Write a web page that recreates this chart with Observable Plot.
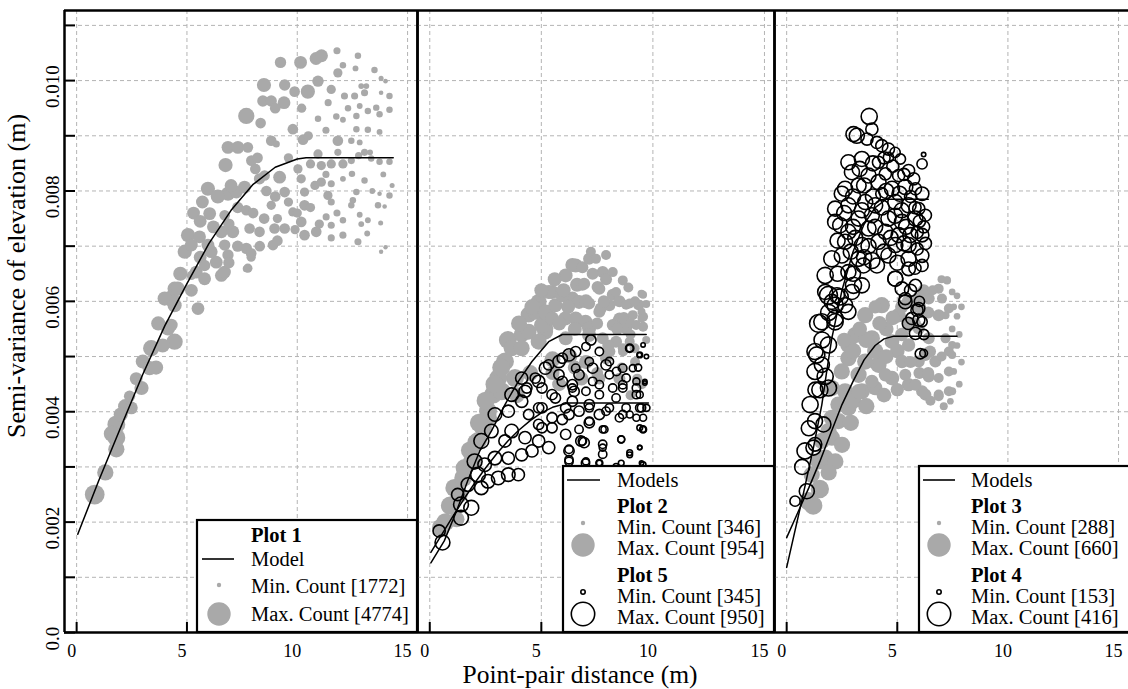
<!DOCTYPE html>
<html><head><meta charset="utf-8">
<script src="https://cdn.jsdelivr.net/npm/d3@7"></script>
<script src="https://cdn.jsdelivr.net/npm/@observablehq/plot@0.6"></script>
<style>
html,body{margin:0;padding:0;background:#fff;overflow:hidden}
#fig{position:relative;width:1128px;height:689px;font-family:"Liberation Serif","Times New Roman",serif;color:#000}
#fig svg text{font-family:"Liberation Serif","Times New Roman",serif !important}
.panel{position:absolute;top:0}
#ytitle{position:absolute;left:17px;top:276px;transform:translate(-50%,-50%) rotate(-90deg);font-size:26px;white-space:nowrap}
#xtitle{position:absolute;left:580px;top:675px;transform:translate(-50%,-50%);font-size:25.5px;line-height:20px;white-space:nowrap}
</style></head><body>
<div id="fig">
  <div id="p1" class="panel" style="left:0px"></div>
  <div id="p2" class="panel" style="left:417px"></div>
  <div id="p3" class="panel" style="left:774px"></div>
  <div id="ytitle">Semi-variance of elevation (m)</div>
  <div id="xtitle">Point-pair distance (m)</div>
</div>
<script>
// ---------- tick values / labels ----------
const xTicks = [0, 5, 10, 15];
const xTickLabels = ["0", "5", "10", "15"];
const yGridTicks = [0, 0.001, 0.002, 0.003, 0.004, 0.005, 0.006, 0.007, 0.008, 0.009, 0.010, 0.011];
const yLabelTicks = [0, 0.002, 0.004, 0.006, 0.008, 0.010];
const yTickLabels = ["0.0", "0.002", "0.004", "0.006", "0.008", "0.010"];

// ---------- count ranges (legend) ----------
const plot1Range = [1772, 4774];
const plot2Range = [346, 954];
const plot5Range = [345, 950];
const plot3Range = [288, 660];
const plot4Range = [153, 416];

// ---------- empirical semivariograms: [distance, semivariance, count] ----------
const plot1 = [
[9.24,0.01033,2870],[10.15,0.01033,3100],[10.85,0.01040,3100],[11.1,0.01045,3100],[11.8,0.01054,2200],
[12.75,0.01045,2100],[12.07,0.01028,2100],[12.64,0.01022,2000],[13.5,0.01019,2100],[13.8,0.01004,1870],
[14.0,0.00999,1800],[8.49,0.00992,3320],[9.43,0.00992,2870],[9.88,0.00980,2760],[10.48,0.00980,3320],
[10.94,0.00999,2870],[11.54,0.00984,2540],[11.84,0.01014,2540],[12.14,0.00972,2200],[12.6,0.00972,2200],
[13.05,0.00978,2200],[13.13,0.00990,2000],[13.8,0.00978,1800],[14.18,0.00972,2100],[8.44,0.00963,2870],
[8.82,0.00963,2870],[9.4,0.00960,3100],[7.69,0.00936,3650],[8.34,0.00923,2760],[9.8,0.00912,2760],
[10.94,0.00931,2100],[11.77,0.00935,2100],[12.07,0.00929,2000],[12.68,0.00936,2100],[12.83,0.00954,2000],
[13.2,0.00945,2100],[13.58,0.00951,2100],[13.73,0.00939,2100],[14.18,0.00947,2100],[12.68,0.00912,2100],
[13.2,0.00911,2100],[13.73,0.00907,2000],[8.82,0.00891,2760],[9.05,0.00885,2200],[10.26,0.00893,2760],
[11.84,0.00891,2760],[12.45,0.00891,2100],[12.83,0.00888,2000],[6.86,0.00879,3100],[7.31,0.00879,3100],
[7.76,0.00879,2760],[6.75,0.00847,3320],[7.92,0.00855,2760],[10.94,0.00867,2540],[11.84,0.00870,2200],
[12.78,0.00864,2200],[13.05,0.00870,2200],[10.03,0.00840,2540],[10.6,0.00849,2540],[11.09,0.00846,2540],
[11.54,0.00849,2540],[12.07,0.00849,2540],[12.45,0.00855,2200],[13.35,0.00859,2100],[13.73,0.00853,2100],
[14.18,0.00853,2100],[8.52,0.00828,2760],[9.2,0.00825,3100],[10.18,0.00822,2540],[11.09,0.00816,2540],
[11.54,0.00813,2200],[12.07,0.00822,2000],[12.48,0.00831,2100],[13.05,0.00819,2100],[5.95,0.00804,3320],
[6.86,0.00795,3320],[7.24,0.00798,3100],[7.61,0.00807,3100],[8.29,0.00822,2870],[9.43,0.00798,2760],
[10.33,0.00798,2540],[11.39,0.00792,2540],[11.54,0.00780,2200],[12.52,0.00783,2100],[12.68,0.00798,2100],
[13.73,0.00795,1800],[14.18,0.00792,2100],[6.03,0.00759,3100],[6.71,0.00756,2760],[7.69,0.00765,2760],
[8.82,0.00774,2540],[9.8,0.00762,2540],[10.33,0.00774,2760],[12.45,0.00774,2100],[13.66,0.00774,2100],
[13.96,0.00772,1800],[5.05,0.00720,3320],[5.57,0.00717,3100],[6.56,0.00726,3100],[7.08,0.00726,3100],
[7.84,0.00732,2760],[8.29,0.00726,2760],[8.97,0.00732,2760],[9.43,0.00732,2760],[10.18,0.00744,2760],
[10.33,0.00720,2760],[10.86,0.00726,2760],[11.31,0.00753,2200],[11.54,0.00738,2200],[12.07,0.00747,2100],
[11.54,0.00715,2200],[12.07,0.00720,2200],[12.75,0.00708,2200],[12.83,0.00757,2000],[13.2,0.00747,2000],
[13.17,0.00723,2000],[13.78,0.00742,1870],[14.0,0.00698,1772],[13.8,0.00690,1772],[5.2,0.00702,3100],
[5.95,0.00702,3100],[6.71,0.00702,2870],[7.69,0.00696,2870],[8.9,0.00702,2760],[5.42,0.00653,3100],
[6.33,0.00671,3100],[6.86,0.00684,2870],[6.56,0.00647,3100],[7.76,0.00660,2540],[7.91,0.00687,2760],
[4.44,0.00623,3320],[5.2,0.00620,3100],[5.8,0.00641,3100],[3.99,0.00605,3320],[4.44,0.00593,3320],
[5.5,0.00587,3100],[4.29,0.00557,3100],[4.29,0.00605,3650],[4.59,0.00623,3320],[5.2,0.00647,2540],
[4.14,0.00551,3320],[4.44,0.00527,3650],[3.38,0.00515,3650],[3.0,0.00491,3320],[3.31,0.00479,3320],
[2.94,0.00443,3320],[2.4,0.00428,2870],[2.48,0.00407,3100],[1.8,0.00377,3900],[1.8,0.00353,3900],
[1.8,0.00332,3650],[0.82,0.00250,4200],[5.8,0.00665,2870],[6.7,0.00653,3100],[7.69,0.00659,2200],
[7.91,0.00680,2540],
[5.3,0.00760,3100],[5.6,0.00745,3100],[6.2,0.00735,3100],[6.9,0.00740,2870],[7.3,0.00770,2870],
[7.0,0.00810,3100],[6.4,0.00790,3320],[5.7,0.00780,3100],[4.9,0.00690,3320],[5.6,0.00680,3100],
[6.1,0.00690,3100],[6.9,0.00670,2870],[7.3,0.00700,2870],[4.7,0.00650,3320],[3.7,0.00560,3320],
[3.9,0.00520,3320],[3.6,0.00480,3320],[2.7,0.00460,3100],[2.2,0.00410,3320],[2.0,0.00395,3320],
[1.6,0.00360,3650],[1.3,0.00290,3650],[8.0,0.00760,2760],[8.5,0.00750,2760],[9.1,0.00750,2540],
[9.6,0.00780,2540],[10.0,0.00760,2540],[10.6,0.00770,2540],[8.6,0.00800,2760],[9.0,0.00790,2760],
[10.8,0.00810,2540],[11.3,0.00830,2200],[9.6,0.00860,2540],[8.2,0.00860,2760],[10.5,0.00900,2540],
[11.3,0.00910,2200],[9.0,0.00950,2760],[10.2,0.00950,2540],[11.4,0.00960,2200],[12.3,0.00950,2100],
[12.9,0.00990,2000],[13.3,0.00870,2000],[13.9,0.00830,2000],[14.3,0.00810,1870],[13.4,0.00800,2000],
[12.9,0.00740,2000],[11.8,0.00760,2200],[11.0,0.00740,2540],[9.9,0.00730,2540],[9.1,0.00710,2760],
[8.3,0.00700,2760],[8.1,0.00840,2760]
];

const plot2 = [
[7.22,0.00690,525],[7.90,0.00684,525],[7.45,0.00677,525],[6.39,0.00666,653],[6.84,0.00662,589],
[7.75,0.00653,589],[8.2,0.00653,525],[6.09,0.00647,653],[8.65,0.00638,525],[6.84,0.00630,589],
[7.52,0.00626,589],[6.92,0.00632,589],[9.56,0.00612,461],[5.48,0.00617,653],[8.2,0.00612,589],
[7.6,0.00623,589],[8.35,0.00617,525],[9.49,0.00614,461],[5.33,0.00617,653],[5.63,0.00593,653],
[6.39,0.00605,653],[7.14,0.00596,589],[8.05,0.00593,589],[8.96,0.00596,525],[9.34,0.00593,525],
[8.8,0.00594,525],[9.4,0.00594,525],[9.56,0.00572,525],[7.66,0.00587,589],[6.69,0.00599,653],
[4.88,0.00599,717],[4.43,0.00576,717],[6.07,0.00569,653],[6.98,0.00563,653],[8.43,0.00563,589],
[9.0,0.00560,525],[9.56,0.00554,525],[4.12,0.00540,717],[5.17,0.00545,717],[3.67,0.00515,717],
[4.73,0.00581,717],[5.48,0.00569,653],[6.54,0.00569,653],[7.6,0.00581,589],[8.5,0.00569,589],
[9.1,0.00575,525],[9.49,0.00581,461],[4.43,0.00545,717],[5.18,0.00551,717],[7.14,0.00551,653],
[8.2,0.00557,589],[8.8,0.00551,589],[9.25,0.00557,525],[9.49,0.00569,461],[7.75,0.00533,589],
[8.35,0.00527,589],[8.96,0.00527,525],[9.18,0.00515,525],[8.05,0.00509,589],[8.65,0.00515,525],
[5.94,0.00611,653],[6.54,0.00665,653],[7.14,0.00677,589],[5.03,0.00557,717],[4.88,0.00527,717],
[6.09,0.00533,653],[7.14,0.00539,653],[7.9,0.00497,589],[8.66,0.00509,525],[3.37,0.00491,780],
[3.82,0.00461,780],[3.07,0.00461,780],[2.84,0.00431,780],[2.61,0.00401,780],[2.39,0.00371,780],
[2.08,0.00344,780],[3.22,0.00437,780],[2.16,0.00347,780],[1.56,0.00298,780],[1.1,0.00262,780],
[0.5,0.00190,780],[2.61,0.00389,780],[4.12,0.00515,717],[5.5,0.00495,717],[6.3,0.00500,653],
[7.0,0.00490,653],[4.5,0.00470,717],[5.8,0.00450,653],[6.8,0.00460,653],[7.6,0.00460,589],
[8.6,0.00480,525],[9.3,0.00460,525],[0.9,0.00230,780],[1.3,0.00250,780],[1.9,0.00310,780],
[1.2,0.00205,717],[3.9,0.00430,717],
[4.0,0.00560,717],[4.6,0.00590,717],[5.0,0.00620,653],[5.6,0.00640,653],[6.0,0.00620,653],
[6.6,0.00630,653],[7.3,0.00650,589],[7.9,0.00640,589],[8.5,0.00600,589],[8.9,0.00625,525],
[9.2,0.00600,525],[9.7,0.00595,461],[9.7,0.00530,461],[9.0,0.00540,525],[8.4,0.00550,589],
[7.5,0.00560,589],[6.5,0.00550,653],[5.8,0.00560,653],[5.2,0.00580,717],[6.2,0.00590,653],
[7.0,0.00600,653],[7.8,0.00600,589],[8.7,0.00570,589],[3.5,0.00530,780],[3.2,0.00480,780],
[2.9,0.00450,780],[2.5,0.00420,780],[2.2,0.00380,780],[1.8,0.00330,780],[1.5,0.00280,780],
[0.7,0.00200,780],[5.5,0.00470,653],[6.5,0.00480,653],[7.5,0.00470,589],[8.5,0.00460,589],
[9.2,0.00490,525],[8.0,0.00520,589],[9.5,0.00450,525],[9.0,0.00430,525]
];

const plot5 = [
[0.57,0.00163,678],[0.42,0.00184,594],[1.4,0.00208,678],[1.4,0.00232,678],[1.86,0.00226,678],
[1.25,0.00250,594],[1.71,0.00268,636],[2.31,0.00262,636],[2.16,0.00286,678],[2.61,0.00274,636],
[3.07,0.00280,636],[3.52,0.00286,636],[3.97,0.00286,594],[2.01,0.00310,678],[2.46,0.00304,636],
[2.92,0.00316,636],[3.52,0.00316,594],[4.12,0.00322,594],[4.58,0.00329,594],[2.31,0.00347,678],
[2.76,0.00365,636],[3.37,0.00347,594],[3.67,0.00365,636],[4.27,0.00353,594],[4.88,0.00347,594],
[5.33,0.00335,594],[2.92,0.00395,636],[3.52,0.00401,594],[4.12,0.00419,594],[3.67,0.00431,636],
[4.27,0.00437,594],[4.88,0.00455,594],[4.12,0.00461,594],[5.18,0.00479,594],[5.79,0.00491,594],
[6.24,0.00503,594],[5.48,0.00431,532],[4.88,0.00407,532],[5.48,0.00389,532],[6.09,0.00407,532],
[6.39,0.00419,532],[6.69,0.00401,532],[7.15,0.00413,532],[7.6,0.00395,532],[8.05,0.00407,470],
[8.5,0.00389,470],[8.8,0.00407,470],[9.41,0.00407,470],[9.56,0.00389,428],[9.56,0.00368,387],
[7.15,0.00383,470],[7.75,0.00368,428],[6.69,0.00368,470],[6.09,0.00359,532],[6.24,0.00332,470],
[6.84,0.00347,470],[7.75,0.00335,428],[8.58,0.00350,428],[8.96,0.00322,387],[9.41,0.00335,345],
[6.24,0.00313,470],[7.0,0.00310,428],[7.6,0.00307,387],[8.35,0.00301,387],[9.56,0.00304,387],
[5.48,0.00371,532],[4.88,0.00377,532],[5.94,0.00455,532],[6.69,0.00467,532],[7.3,0.00479,532],
[7.9,0.00485,532],[8.37,0.00473,470],[8.8,0.00461,470],[9.26,0.00443,470],[9.41,0.00431,428],
[9.1,0.00479,428],[9.41,0.00503,387],[9.56,0.00521,345],[8.96,0.00515,428],[7.6,0.00509,470],
[7.0,0.00518,470],[8.2,0.00443,470],[7.6,0.00449,470],[7.0,0.00437,470],[6.39,0.00443,470],
[9.64,0.00452,345],[7.22,0.00530,532],[8.96,0.00515,470],[9.4,0.00503,345],[9.71,0.00500,345],
[9.34,0.00480,428],[6.54,0.00509,532],[5.94,0.00497,532],[5.33,0.00485,532],[4.73,0.00461,532],
[4.35,0.00443,532],[5.03,0.00443,532],[5.79,0.00467,532],[6.54,0.00479,470],[7.15,0.00491,470],
[8.05,0.00491,470],[8.65,0.00479,470],[6.39,0.00449,532],[7.3,0.00455,470],[8.05,0.00467,470],
[8.65,0.00449,470],[9.26,0.00455,428],[9.64,0.00455,345],[5.63,0.00425,532],[6.47,0.00437,532],
[7.6,0.00431,470],[8.35,0.00425,470],[8.65,0.00443,470],[9.26,0.00431,470],[9.49,0.00407,470],
[4.43,0.00395,532],[5.03,0.00407,532],[6.24,0.00395,532],[7.15,0.00407,470],[7.9,0.00401,470],
[8.65,0.00395,470],[9.26,0.00389,428],[9.71,0.00407,428],[9.41,0.00371,387],[9.56,0.00368,428],
[8.96,0.00395,428],[7.15,0.00380,532],[7.83,0.00368,428],[5.94,0.00386,532],[5.03,0.00371,532],
[6.77,0.00347,532],[7.75,0.00341,470],[8.58,0.00350,428],[6.92,0.00344,532],[6.24,0.00329,532],
[7.75,0.00323,470],[8.96,0.00326,387],[9.41,0.00335,345],[6.24,0.00310,470],[6.98,0.00307,470],
[7.6,0.00307,428],[8.58,0.00307,387],[9.49,0.00307,345]
];

const plot3 = [
[7.25,0.00638,359],[6.87,0.00623,398],[6.42,0.00605,437],[7.02,0.00605,398],[7.33,0.00587,398],
[4.3,0.00593,520],[3.55,0.00575,520],[5.06,0.00575,489],[5.51,0.00557,463],[6.87,0.00575,437],
[3.1,0.00539,520],[3.85,0.00533,520],[4.76,0.00527,489],[5.51,0.00521,463],[6.42,0.00533,437],
[7.18,0.00533,398],[7.33,0.00509,398],[6.72,0.00491,437],[7.33,0.00473,398],[6.87,0.00461,398],
[6.42,0.00464,437],[7.33,0.00437,398],[6.87,0.00428,398],[6.12,0.00437,437],[5.51,0.00449,463],
[4.76,0.00461,489],[4.15,0.00485,520],[3.55,0.00491,520],[2.79,0.00497,520],[2.49,0.00473,520],
[3.25,0.00467,520],[4.0,0.00443,489],[3.4,0.00437,520],[2.64,0.00437,520],[2.34,0.00413,520],
[2.04,0.00389,520],[1.89,0.00365,520],[1.59,0.00347,520],[1.44,0.00310,520],[1.13,0.00286,520],
[0.98,0.00238,560],[2.04,0.00443,520],[2.79,0.00521,520],[5.97,0.00551,437],[5.21,0.00491,463],
[6.27,0.00503,437],[7.25,0.00639,333],[7.48,0.00617,333],[7.55,0.00590,333],[7.18,0.00575,359],
[7.7,0.00573,333],[7.48,0.00550,333],[7.48,0.00521,359],[7.48,0.00503,359],[7.55,0.00473,333],
[7.48,0.00437,359],[7.4,0.00419,333],[6.87,0.00431,398],[6.27,0.00431,437],[5.82,0.00449,437],
[5.36,0.00467,437],[4.46,0.00467,463],[3.85,0.00455,463],[3.25,0.00437,489],[2.79,0.00407,520],
[2.34,0.00383,520],[2.04,0.00353,520],[1.74,0.00317,520],[6.48,0.00509,437],[5.97,0.00491,437],
[4.5,0.00550,489],[5.2,0.00590,463],[6.0,0.00590,463],[6.2,0.00620,437],[5.7,0.00600,463],
[4.0,0.00510,520],[5.0,0.00510,489],[6.0,0.00470,437],[3.0,0.00420,520],[7.8,0.00540,333],
[7.9,0.00490,333],[7.7,0.00610,333],[7.0,0.00640,359],
[3.0,0.00510,520],[3.6,0.00530,520],[4.2,0.00560,489],[4.8,0.00570,489],[5.5,0.00600,463],
[6.0,0.00610,437],[6.6,0.00620,398],[6.4,0.00580,437],[5.8,0.00560,437],[5.2,0.00540,463],
[4.5,0.00500,489],[5.6,0.00490,437],[6.4,0.00470,437],[7.0,0.00500,398],[7.7,0.00520,333],
[7.9,0.00590,333],[7.8,0.00450,333],[7.1,0.00410,359],[6.5,0.00420,398],[5.0,0.00440,463],
[4.4,0.00430,489],[3.6,0.00410,520],[2.9,0.00380,520],[2.5,0.00340,520],[2.2,0.00310,520],
[1.9,0.00290,520],[1.5,0.00260,560],[1.2,0.00230,560],[2.6,0.00530,489],[3.3,0.00550,489],
[4.0,0.00590,463]
];

const plot4 = [
[3.73,0.00935,315],[3.85,0.00912,260],[3.02,0.00903,300],[3.17,0.00900,300],[3.63,0.00894,260],
[4.08,0.00888,260],[4.3,0.00882,260],[4.6,0.00876,260],[4.9,0.00870,234],[4.6,0.00861,234],
[6.19,0.00866,153],[6.12,0.00849,234],[2.79,0.00852,300],[3.4,0.00858,300],[4.15,0.00852,260],
[5.51,0.00837,260],[5.14,0.00858,234],[2.95,0.00834,300],[3.7,0.00828,300],[4.46,0.00831,260],
[5.06,0.00828,260],[5.74,0.00822,260],[2.64,0.00804,300],[3.25,0.00810,300],[4.15,0.00816,300],
[4.76,0.00804,300],[5.36,0.00807,300],[6.12,0.00795,280],[5.82,0.00804,260],[2.49,0.00795,300],
[4.3,0.00795,260],[2.19,0.00768,300],[2.79,0.00774,300],[3.55,0.00780,300],[4.0,0.00774,300],
[4.91,0.00780,300],[5.51,0.00774,300],[5.97,0.00768,260],[6.27,0.00756,260],[2.19,0.00744,300],
[2.42,0.00738,300],[3.25,0.00750,300],[3.85,0.00756,300],[4.6,0.00750,300],[5.21,0.00744,300],
[5.82,0.00750,300],[6.19,0.00735,260],[2.79,0.00726,300],[3.7,0.00732,300],[4.46,0.00726,300],
[5.06,0.00720,300],[5.59,0.00720,300],[6.12,0.00720,280],[2.64,0.00708,300],[3.4,0.00702,300],
[4.15,0.00708,300],[4.91,0.00702,300],[5.51,0.00702,300],[6.27,0.00705,260],[2.04,0.00677,315],
[2.49,0.00683,300],[3.25,0.00677,300],[3.85,0.00674,315],[4.6,0.00683,300],[5.51,0.00677,300],
[6.12,0.00683,280],[1.74,0.00647,315],[2.79,0.00653,300],[3.47,0.00665,300],[4.08,0.00665,300],
[4.91,0.00641,300],[5.51,0.00659,280],[6.12,0.00665,260],[5.21,0.00623,280],[5.82,0.00629,260],
[1.74,0.00617,300],[2.27,0.00611,300],[2.95,0.00617,300],[3.4,0.00629,300],[2.64,0.00593,300],
[2.04,0.00599,300],[5.36,0.00599,280],[5.97,0.00587,260],[1.59,0.00563,315],[2.19,0.00569,315],
[2.79,0.00581,300],[5.66,0.00569,260],[6.12,0.00563,234],[1.89,0.00521,315],[1.28,0.00509,315],
[5.82,0.00542,260],[6.04,0.00505,234],[6.19,0.00506,200],[1.59,0.00485,300],[1.89,0.00611,340],
[2.42,0.00608,315],[2.19,0.00593,315],[3.02,0.00629,315],[1.44,0.00560,340],[2.19,0.00563,315],
[1.36,0.00503,315],[1.28,0.00473,315],[1.74,0.00464,315],[1.89,0.00443,315],[1.06,0.00413,315],
[1.28,0.00383,300],[1.66,0.00377,300],[0.83,0.00329,315],[1.21,0.00335,300],[1.28,0.00341,280],
[0.91,0.00256,300],[0.38,0.00238,234],[5.97,0.00566,260],[5.89,0.00584,260],[5.36,0.00605,260],
[4.91,0.00641,300],
[3.3,0.00840,300],[3.9,0.00850,300],[4.4,0.00860,260],[4.8,0.00845,260],[5.3,0.00830,260],
[3.5,0.00810,300],[4.5,0.00800,300],[5.1,0.00795,300],[5.6,0.00790,260],[3.0,0.00790,300],
[3.9,0.00790,300],[4.3,0.00770,300],[5.2,0.00765,300],[5.8,0.00770,260],[2.6,0.00760,300],
[3.4,0.00765,300],[4.9,0.00755,300],[6.0,0.00745,260],[3.0,0.00735,300],[4.0,0.00735,300],
[5.4,0.00735,300],[5.9,0.00725,260],[3.1,0.00715,300],[4.7,0.00715,300],[5.3,0.00705,300],
[2.3,0.00710,300],[3.7,0.00700,300],[4.4,0.00690,300],[5.9,0.00695,260],[2.9,0.00690,300],
[3.5,0.00680,300],[5.0,0.00670,300],[5.8,0.00660,260],[2.3,0.00650,300],[3.0,0.00650,300],
[1.9,0.00580,315],[1.6,0.00530,315],[1.5,0.00440,315],[1.3,0.00440,300],[1.0,0.00370,300],
[0.7,0.00300,300],[5.6,0.00620,260],[5.5,0.00560,260],[6.0,0.00600,234],[6.2,0.00540,234]
];

// ---------- fitted models: [distance, semivariance] ----------
const model1 = [[0.05,0.00178],[1,0.00275],[2,0.00372],[3,0.00468],[4,0.00556],[5,0.00632],[6,0.00705],
  [7,0.00765],[8,0.00812],[9,0.00843],[10,0.00858],[10.4,0.00860],[14.35,0.00860]];
const model2 = [[0.05,0.00126],[0.65,0.00166],[1.2,0.00220],[1.7,0.00275],[2.24,0.00329],[2.76,0.00365],
  [3.37,0.00413],[3.97,0.00455],[4.58,0.00491],[5.33,0.00527],[5.94,0.00540],[9.7,0.00540]];
const model5 = [[0.05,0.00145],[0.5,0.00175],[1,0.00208],[1.5,0.00240],[2,0.00270],[2.5,0.00298],
  [3,0.00324],[3.5,0.00347],[4,0.00367],[4.5,0.00384],[5,0.00398],[5.5,0.00408],[6.2,0.00416],[9.8,0.00416]];
const model3 = [[0,0.00172],[0.5,0.00217],[1,0.00262],[1.5,0.00310],[2,0.00362],[2.5,0.00413],[3,0.00455],
  [3.5,0.00494],[4,0.00520],[4.4,0.00532],[4.85,0.00537],[7.7,0.00537]];
const model4 = [[0,0.00118],[0.68,0.00238],[1.21,0.00335],[1.59,0.00413],[1.81,0.00473],[2.04,0.00533],
  [2.5,0.00620],[3,0.00690],[3.5,0.00740],[4,0.00770],[4.5,0.00785],[6.4,0.00785]];

// ---------- styling ----------
const X_DOMAIN = [-0.55, 15.45];
const Y_DOMAIN = [0, 0.01127];
const GREY = "#a9a9a9";
const GRID = "#b4b4b4";
const FONT = "Liberation Serif, Times New Roman, serif";

function makePanel({width, marginLeft, showY, borders, series, models}) {
  const marks = [
    Plot.gridX(xTicks, {stroke: GRID, strokeOpacity: 1, strokeDasharray: "4,3", strokeWidth: 1}),
    Plot.gridY(yGridTicks, {stroke: GRID, strokeOpacity: 1, strokeDasharray: "4,3", strokeWidth: 1}),
    ...series.map(s => Plot.dot(s.data, {
      x: d => d[0], y: d => d[1],
      r: d => (d[2] - s.range[0]) / (s.range[1] - s.range[0]),
      ...(s.filled ? {fill: GREY} : {fill: "none", stroke: "black", strokeWidth: 1.6})
    })),
    ...models.map(m => Plot.line(m, {x: d => d[0], y: d => d[1], stroke: "black", strokeWidth: 1.5})),
    Plot.axisX({ticks: xTicks, tickSize: -10, tickFormat: () => "", strokeWidth: 2, label: null}),
    Plot.axisX({ticks: xTicks, tickSize: 0, tickPadding: 12, fontSize: 18, dx: -5, label: null, fontFamily: FONT,
      tickFormat: d => xTickLabels[xTicks.indexOf(d)]}),
    Plot.ruleY(Y_DOMAIN, {stroke: "black", strokeWidth: 2.5}),
    Plot.ruleX(borders.map(i => X_DOMAIN[i]), {stroke: "black", strokeWidth: 2.5})
  ];
  if (showY) {
    marks.push(
      Plot.axisY({ticks: yGridTicks, tickSize: -11, tickFormat: () => "", strokeWidth: 2, label: null}),
      Plot.axisY({ticks: yLabelTicks, tickSize: 0, tickPadding: 6, tickRotate: -90, fontSize: 19, dy: 6, label: null,
        fontFamily: FONT, tickFormat: d => yTickLabels[yLabelTicks.indexOf(d)]})
    );
  }
  const svg = Plot.plot({
    width, height: 689, marginLeft, marginRight: 0, marginTop: 10, marginBottom: 57,
    x: {domain: X_DOMAIN, axis: null},
    y: {domain: Y_DOMAIN, axis: null},
    r: {type: "linear", domain: [0, 1], range: [2.2, 11.7], clamp: true},
    style: {background: "transparent", overflow: "visible", color: "black"},
    marks
  });
  svg.style.fontFamily = FONT;
  return svg;
}

function drawLegend(plot, box, rows) {
  const rs = plot.scale("r");
  const g = d3.select(plot).append("g").attr("font-family", FONT).attr("font-size", 20.5)
    .attr("text-anchor", "start").attr("fill", "black");
  g.append("rect").attr("x", box[0]).attr("y", box[1]).attr("width", box[2] - box[0]).attr("height", box[3] - box[1])
    .attr("fill", "white").attr("stroke", "black").attr("stroke-width", 2.2);
  for (const r of rows) {
    if (r.line) g.append("line").attr("x1", r.line[0]).attr("x2", r.line[1]).attr("y1", r.y).attr("y2", r.y)
      .attr("stroke", "black").attr("stroke-width", 1.6);
    if (r.dot) g.append("circle").attr("cx", r.dot[0]).attr("cy", r.dot[1]).attr("r", rs.apply(r.dot[2]))
      .attr("fill", r.filled ? GREY : "none").attr("stroke", r.filled ? "none" : "black").attr("stroke-width", 1.6);
    if (r.text) g.append("text").attr("x", r.tx).attr("y", r.y).attr("dominant-baseline", "central")
      .attr("text-anchor", "start").attr("font-weight", r.bold ? "bold" : null).text(r.text);
  }
}

// Panel 1
const p1 = makePanel({width: 417, marginLeft: 64, showY: true, borders: [0, 1],
  series: [{data: plot1, range: plot1Range, filled: true}], models: [model1]});
document.getElementById("p1").appendChild(p1);
drawLegend(p1, [197, 520, 417, 632], [
  {text: "Plot 1", tx: 251, y: 535, bold: true},
  {text: "Model", tx: 251, y: 559, line: [202, 234]},
  {text: `Min. Count [${plot1Range[0]}]`, tx: 251, y: 586, dot: [219, 585, 0], filled: true},
  {text: `Max. Count [${plot1Range[1]}]`, tx: 251, y: 614, dot: [219, 614, 1], filled: true}
]);

// Panel 2
const p2 = makePanel({width: 357, marginLeft: 0, showY: false, borders: [0, 1],
  series: [{data: plot2, range: plot2Range, filled: true}, {data: plot5, range: plot5Range, filled: false}],
  models: [model2, model5]});
document.getElementById("p2").appendChild(p2);
drawLegend(p2, [146, 466, 357, 632], [
  {text: "Models", tx: 200, y: 480, line: [150, 183]},
  {text: "Plot 2", tx: 200, y: 506, bold: true},
  {text: `Min. Count [${plot2Range[0]}]`, tx: 200, y: 527, dot: [166, 523, 0], filled: true},
  {text: `Max. Count [${plot2Range[1]}]`, tx: 200, y: 548, dot: [166, 545, 1], filled: true},
  {text: "Plot 5", tx: 200, y: 575, bold: true},
  {text: `Min. Count [${plot5Range[0]}]`, tx: 200, y: 596, dot: [166, 592, 0], filled: false},
  {text: `Max. Count [${plot5Range[1]}]`, tx: 200, y: 617, dot: [166, 614, 1], filled: false}
]);

// Panel 3
const p3 = makePanel({width: 354, marginLeft: 0, showY: false, borders: [0],
  series: [{data: plot3, range: plot3Range, filled: true}, {data: plot4, range: plot4Range, filled: false}],
  models: [model3, model4]});
document.getElementById("p3").appendChild(p3);
drawLegend(p3, [145, 466, 356, 632], [
  {text: "Models", tx: 197, y: 480, line: [149, 181]},
  {text: "Plot 3", tx: 197, y: 506, bold: true},
  {text: `Min. Count [${plot3Range[0]}]`, tx: 197, y: 527, dot: [165, 523, 0], filled: true},
  {text: `Max. Count [${plot3Range[1]}]`, tx: 197, y: 548, dot: [165, 545, 1], filled: true},
  {text: "Plot 4", tx: 197, y: 575, bold: true},
  {text: `Min. Count [${plot4Range[0]}]`, tx: 197, y: 596, dot: [165, 592, 0], filled: false},
  {text: `Max. Count [${plot4Range[1]}]`, tx: 197, y: 617, dot: [165, 614, 1], filled: false}
]);
</script>
</body></html>
